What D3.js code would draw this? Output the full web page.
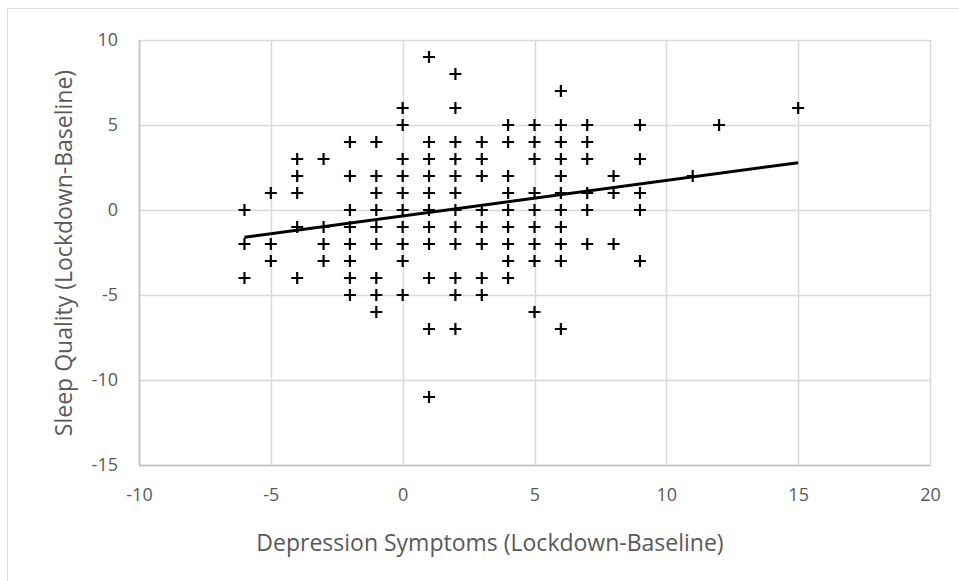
<!DOCTYPE html>
<html>
<head>
<meta charset="utf-8">
<script src="https://cdn.jsdelivr.net/npm/d3@7"></script>
<style>
  body { margin: 0; background: #fff; }
  text { font-family: "Open Sans", "Noto Sans", sans-serif; fill: #595959; }
</style>
</head>
<body>
<svg width="959" height="581"></svg>
<script>
var svg = d3.select('svg');

// data: depression change (x), sleep quality change (y)
var xValues = [
  -6, -6, -6,
  -5, -5, -5,
  -4, -4, -4, -4, -4,
  -3, -3, -3, -3,
  -2, -2, -2, -2, -2, -2, -2, -2,
  -1, -1, -1, -1, -1, -1, -1, -1, -1,
  0, 0, 0, 0, 0, 0, 0, 0, 0, 0,
  1, 1, 1, 1, 1, 1, 1, 1, 1, 1, 1,
  2, 2, 2, 2, 2, 2, 2, 2, 2, 2, 2, 2,
  3, 3, 3, 3, 3, 3, 3, 3,
  4, 4, 4, 4, 4, 4, 4, 4, 4,
  5, 5, 5, 5, 5, 5, 5, 5, 5,
  6, 6, 6, 6, 6, 6, 6, 6, 6, 6, 6,
  7, 7, 7, 7, 7, 7,
  8, 8, 8,
  9, 9, 9, 9, 9,
  11, 12, 15
];
var yValues = [
  0, -2, -4,
  1, -2, -3,
  3, 2, 1, -1, -4,
  3, -1, -2, -3,
  4, 2, 0, -1, -2, -3, -4, -5,
  4, 2, 1, 0, -1, -2, -4, -5, -6,
  6, 5, 3, 2, 1, 0, -1, -2, -3, -5,
  9, 4, 3, 2, 1, 0, -1, -2, -4, -7, -11,
  8, 6, 4, 3, 2, 1, 0, -1, -2, -4, -5, -7,
  4, 3, 2, 0, -1, -2, -4, -5,
  5, 4, 2, 1, 0, -1, -2, -3, -4,
  5, 4, 3, 1, 0, -1, -2, -3, -6,
  7, 5, 4, 3, 2, 1, 0, -1, -2, -3, -7,
  5, 4, 3, 1, 0, -2,
  2, 1, -2,
  5, 3, 1, 0, -3,
  2, 5, 6
];
// linear trend line as drawn
var trendX = [-6, 15];
var trendSlope = 0.209;
var trendIntercept = -0.35;

var xTicks = [-10, -5, 0, 5, 10, 15, 20];
var yTicks = [-15, -10, -5, 0, 5, 10];

var points = xValues.map(function (x, i) { return { x: x, y: yValues[i] }; });

var margin = { top: 40, right: 29, bottom: 116, left: 139 };
var w = 959 - margin.left - margin.right;
var h = 581 - margin.top - margin.bottom;

// outer chart border
svg.append('rect')
  .attr('x', 7.5).attr('y', 8.5)
  .attr('width', 1000).attr('height', 1000)
  .attr('fill', 'none')
  .attr('stroke', '#d9d9d9');

var g = svg.append('g')
  .attr('transform', 'translate(' + margin.left + ',' + margin.top + ')');

var xScale = d3.scaleLinear().domain([-10, 20]).range([0, w]);
var yScale = d3.scaleLinear().domain([-15, 10]).range([h, 0]);

// gridlines
g.append('g')
  .selectAll('line')
  .data(xTicks)
  .enter()
  .append('line')
  .attr('x1', function (d) { return Math.round(xScale(d)) + 0.5; })
  .attr('x2', function (d) { return Math.round(xScale(d)) + 0.5; })
  .attr('y1', 0).attr('y2', h)
  .attr('stroke', '#d9d9d9').attr('stroke-width', 1.5);
g.append('g')
  .selectAll('line')
  .data(yTicks)
  .enter()
  .append('line')
  .attr('y1', function (d) { return Math.round(yScale(d)) + 0.5; })
  .attr('y2', function (d) { return Math.round(yScale(d)) + 0.5; })
  .attr('x1', 0).attr('x2', w)
  .attr('stroke', '#d9d9d9').attr('stroke-width', 1.5);

// axes (plain hyphen for negatives, like the original)
var fmt = function (d) { return String(d); };
var xAxis = d3.axisBottom(xScale).tickValues(xTicks).tickFormat(fmt).tickSize(0).tickPadding(23);
var yAxis = d3.axisLeft(yScale).tickValues(yTicks).tickFormat(fmt).tickSize(0).tickPadding(21);

var gx = g.append('g')
  .attr('transform', 'translate(0,' + h + ')')
  .call(xAxis);
var gy = g.append('g').call(yAxis);

[gx, gy].forEach(function (a) {
  a.select('.domain').attr('stroke', '#bfbfbf').attr('stroke-width', 1.5);
  a.selectAll('.tick text')
    .style('font-size', '18px')
    .style('font-family', '"Open Sans", sans-serif')
    .attr('fill', '#595959');
});

// points as plus markers
g.append('g')
  .selectAll('path')
  .data(points)
  .enter()
  .append('path')
  .attr('d', 'M-6,0H6M0,-6V6')
  .attr('transform', function (d) {
    return 'translate(' + xScale(d.x) + ',' + yScale(d.y) + ')';
  })
  .attr('stroke', '#000')
  .attr('stroke-width', 2.2)
  .attr('fill', 'none');

// trend line
var line = d3.line()
  .x(function (d) { return xScale(d); })
  .y(function (d) { return yScale(trendSlope * d + trendIntercept); });
g.append('path')
  .datum(trendX)
  .attr('d', line)
  .attr('stroke', '#000')
  .attr('stroke-width', 3)
  .attr('fill', 'none');

// axis titles
svg.append('text')
  .attr('x', 490)
  .attr('y', 551)
  .attr('text-anchor', 'middle')
  .style('font-size', '23px')
  .text('Depression Symptoms (Lockdown-Baseline)');

svg.append('text')
  .attr('transform', 'translate(72,253) rotate(-90)')
  .attr('text-anchor', 'middle')
  .style('font-size', '23px')
  .text('Sleep Quality (Lockdown-Baseline)');
</script>
</body>
</html>
